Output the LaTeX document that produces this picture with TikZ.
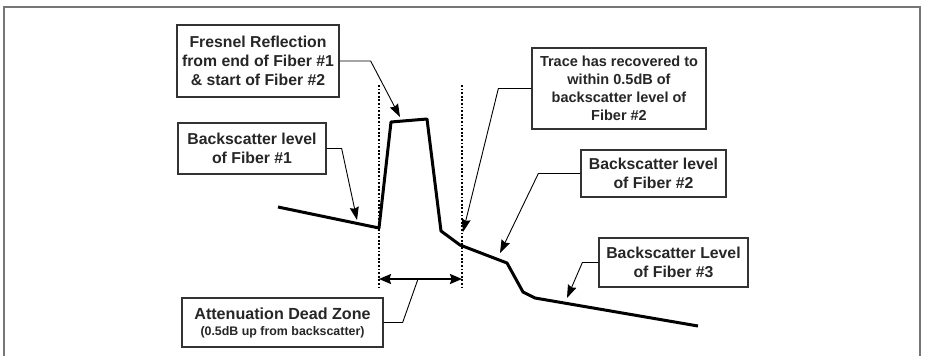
\documentclass[tikz,border=0pt]{standalone}
\usepackage{fontspec}
\setmainfont{Liberation Sans}
\usetikzlibrary{arrows.meta, positioning}
\definecolor{framegray}{RGB}{118,118,118}

\begin{document}
\begin{tikzpicture}[
    x=1pt, y=-1pt,
    callout/.style={rectangle, draw=black!80, line width=1.3pt, fill=white, align=center, inner sep=2pt, text=black!85, font=\bfseries\fontsize{15.8}{19}\selectfont},
    leader/.style={draw, line width=0.9pt, -{Stealth[length=13pt, width=9pt, inset=1.5pt]}},
    trace/.style={draw, line width=3pt, line join=round},
    marker/.style={draw, line width=2.2pt, dash pattern=on 1.8pt off 1.8pt},
    span/.style={draw, line width=1.8pt, {Stealth[length=12pt, width=10pt, inset=1.5pt]}-{Stealth[length=12pt, width=10pt, inset=1.5pt]}}
]
    \useasboundingbox (0,0) rectangle (925,356);
    % outer frame, open at the bottom
    \draw[framegray, line width=2pt] (4,356) -- (4,7) -- (920,7) -- (920,356);

    % OTDR trace
    \coordinate (t0) at (278,207);
    \coordinate (t1) at (379,228);
    \coordinate (t2) at (391,122);
    \coordinate (t3) at (427,119);
    \coordinate (t4) at (441,231);
    \coordinate (t5) at (460,245);
    \coordinate (t6) at (507,263);
    \coordinate (t7) at (523,292);
    \coordinate (t8) at (535,298);
    \coordinate (t9) at (698,326);
    \draw[trace] (t0) -- (t1) -- (t2) -- (t3) -- (t4) -- (t5) -- (t6) -- (t7) -- (t8) -- (t9);

    % dead zone markers
    \coordinate (dzLtop) at (379,85);
    \coordinate (dzLbot) at (379,287);
    \coordinate (dzRtop) at (462,85);
    \coordinate (dzRbot) at (462,287);
    \path[marker] (dzLtop) -- (dzLbot);
    \path[marker] (dzRtop) -- (dzRbot);
    \coordinate (spanL) at (379,279);
    \coordinate (spanR) at (462,279);
    \coordinate (spanM) at (418,279);
    \path[span] (spanL) -- (spanR);

    % callout boxes
    \node[callout, minimum width=162pt, minimum height=72pt] (fresnel) at (258,61) {Fresnel Reflection \\ from end of Fiber \#1 \\ \& start of Fiber \#2};
    \node[callout, minimum width=148pt, minimum height=51pt] (bs1) at (252,148.5) {Backscatter level \\ of Fiber \#1};
    \node[callout, minimum width=174pt, minimum height=81pt, font=\bfseries\fontsize{14.5}{18}\selectfont] (recov) at (619,88.5) {Trace has recovered to \\ within 0.5dB of \\ backscatter level of \\ Fiber \#2};
    \node[callout, minimum width=145pt, minimum height=47pt] (bs2) at (653.5,173.5) {Backscatter level \\ of Fiber \#2};
    \node[callout, minimum width=149pt, minimum height=49pt] (bs3) at (673.5,262.5) {Backscatter Level \\ of Fiber \#3};
    \node[callout, minimum width=201pt, minimum height=49pt, font=\bfseries\fontsize{16.1}{19}\selectfont] (dzone) at (282.5,322.5) {Attenuation Dead Zone \\[-3pt] {\fontsize{12.4}{14}\selectfont (0.5dB up from backscatter)}};

    % arrow tips on the trace
    \coordinate (tipF) at (400,117);
    \coordinate (tipB1) at (357,220);
    \coordinate (tipR) at (463,232);
    \coordinate (tipB2) at (500,253);
    \coordinate (tipB3) at (567,298);

    \path[leader] (fresnel.east) -- ++(31,0) -- (tipF);
    \path[leader] (bs1.east) -- ++(15,0) -- (tipB1);
    \path[leader] (recov.west) -- ++(-33,0) -- (tipR);
    \path[leader] (bs2.west) -- ++(-42,0) -- (tipB2);
    \path[leader] (bs3.west) -- ++(-16,0) -- (tipB3);
    \draw[line width=0.9pt] (dzone.east) -- ++(19,0) -- (spanM);
\end{tikzpicture}
\end{document}
